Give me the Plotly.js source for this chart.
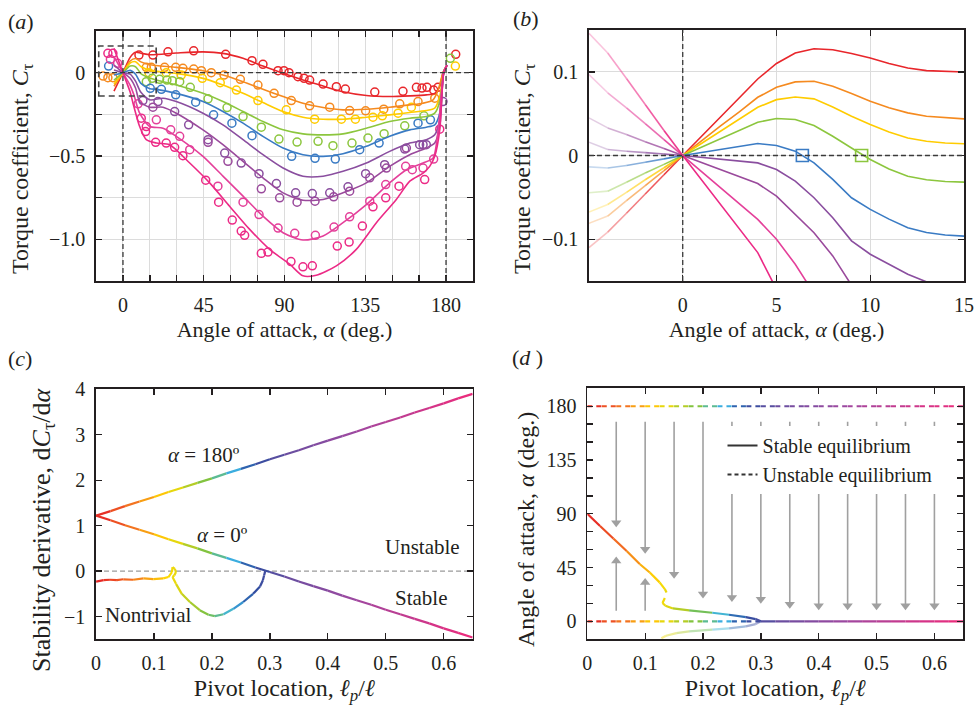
<!DOCTYPE html>
<html><head><meta charset="utf-8">
<script src="https://cdn.plot.ly/plotly-3.0.1.min.js"></script>
<style>html,body{margin:0;padding:0;background:#fff;} #chart{width:979px;height:710px;}</style>
</head><body><div id="chart"></div>
<script>
// ================= DATA =================
// ---- Panel (a): torque coefficient vs angle of attack (model curves) ----
const aAlpha1 = [-5,0,4,7,10,15,29.7,44.6,55.7,66.9,78,89.2,100.3,111.5,122.6,135.6,148.6,159.8,169,173.7,176.5,178.3,180.5];
const aCt1    = [-0.110,0,0.092,0.122,0.117,0.108,0.118,0.125,0.116,0.086,0.040,-0.004,-0.044,-0.080,-0.114,-0.137,-0.143,-0.139,-0.133,-0.124,-0.084,0,0.040];
const aAlpha2 = [-5,0,4,7,10,15,29.7,44.6,55.7,66.9,78,89.2,100.3,111.5,122.6,135.6,148.6,159.8,167.2,172.8,175.6,178.3,180.5];
const aCt2    = [-0.081,0,0.070,0.085,0.065,0.048,0.032,0.012,-0.014,-0.054,-0.100,-0.143,-0.183,-0.209,-0.223,-0.219,-0.207,-0.193,-0.183,-0.163,-0.104,0,0.045];
const aAlpha3 = [-5,0,4,7,10,15,29.7,44.6,55.7,66.9,78,89.2,100.3,111.5,122.6,135.6,148.6,159.8,169,173.7,176.5,178.7,180.5];
const aCt3    = [-0.068,0,0.058,0.066,0.037,0.014,-0.004,-0.034,-0.074,-0.124,-0.179,-0.233,-0.267,-0.279,-0.279,-0.267,-0.253,-0.239,-0.227,-0.213,-0.143,0,0.045];
const aAlpha4 = [-5,0,4,7,10,15,18.6,29.7,44.6,55.7,66.9,78,89.2,100.3,111.5,122.6,135.6,148.6,159.8,169,173.7,176.5,178.7,180.5];
const aCt4    = [-0.045,0,0.040,0.036,-0.005,-0.032,-0.044,-0.074,-0.124,-0.173,-0.233,-0.293,-0.343,-0.367,-0.373,-0.367,-0.333,-0.293,-0.273,-0.263,-0.243,-0.173,0,0.045];
const aAlpha5 = [-5,0,4,7,10,15,18.6,29.7,44.6,55.7,66.9,78,89.2,100.3,111.5,122.6,135.6,148.6,159.8,169,173.7,176.5,178.7,180.5];
const aCt5    = [-0.014,0,0.014,-0.009,-0.064,-0.096,-0.100,-0.124,-0.173,-0.233,-0.303,-0.382,-0.452,-0.492,-0.502,-0.486,-0.442,-0.382,-0.343,-0.327,-0.313,-0.243,0,0.045];
const aAlpha6 = [-5,0,4,7,10,14.9,22.3,29.7,44.6,55.7,66.9,78,89.2,100.3,111.5,122.6,135.6,148.6,159.8,169,173.7,176.5,178.7,180.5];
const aCt6    = [0.016,0,-0.009,-0.051,-0.118,-0.163,-0.153,-0.173,-0.243,-0.313,-0.402,-0.492,-0.572,-0.621,-0.621,-0.592,-0.542,-0.472,-0.422,-0.402,-0.373,-0.283,0,0.045];
const aAlpha7 = [-5,0,4,7,9.3,14.9,22.3,29.7,44.6,55.7,66.9,78,89.2,100.3,111.5,122.6,135.6,148.6,159.8,169,173.7,176.5,178.7,180.5];
const aCt7    = [0.045,0,-0.033,-0.092,-0.173,-0.207,-0.207,-0.243,-0.343,-0.432,-0.532,-0.631,-0.721,-0.765,-0.761,-0.721,-0.661,-0.562,-0.492,-0.452,-0.422,-0.323,0,0.045];
const aAlpha8 = [-5,0,4,6,9.3,14.9,22.3,29.7,44.6,55.7,66.9,78,89.2,100.3,111.5,122.6,135.6,148.6,157.9,167.2,172.8,175.6,178.7,180.5];
const aCt8    = [0.097,0,-0.076,-0.130,-0.243,-0.323,-0.333,-0.382,-0.502,-0.621,-0.741,-0.861,-0.960,-1.004,-0.980,-0.900,-0.791,-0.661,-0.582,-0.542,-0.512,-0.343,0,0.045];
const aAlpha9 = [-5,0,4,5.6,9.3,13,18.6,26,37.2,48.3,59.4,70.6,81.7,92.9,100.3,107.7,118.9,130,141.2,152.3,159.8,167.2,170.9,173.7,176.5,178.7,180.5];
const aCt9    = [0.146,0,-0.116,-0.183,-0.323,-0.402,-0.422,-0.432,-0.542,-0.661,-0.801,-0.940,-1.060,-1.149,-1.219,-1.215,-1.159,-1.060,-0.900,-0.761,-0.651,-0.602,-0.562,-0.502,-0.343,0,0.045];

// ---- Panel (a): experiments (open circles) ----
const eAlpha1 = [8.9,16.7,25.1,39.4,57.2,71.9,78.0,86.4,89.7,92.5,97.5,100.9,104.0,111.5,118.9,123.9,140.3,156.0,163.5,166.6,169.4,173.1,175.5,185.4];
const eCt1    = [0.106,0.106,0.125,0.131,0.110,0.072,0.050,0.012,0.012,0,-0.024,-0.034,-0.044,-0.068,-0.084,-0.098,-0.116,-0.112,-0.088,-0.092,-0.088,-0.104,-0.088,0.110];
const eAlpha2 = [-11.1,-8.4,-5.6,13.0,15.8,23.2,29.4,33.4,39.4,43.7,49.2,56.3,65.4,75.2,84.2,93.8,104.0,115.2,126.3,135.2,145.3,154.2,164.4,173.7];
const eCt2    = [-0.020,-0.030,-0.030,0.032,0.032,0.032,0.032,0.026,0.022,0.012,0,-0.014,-0.040,-0.074,-0.124,-0.167,-0.199,-0.207,-0.227,-0.229,-0.219,-0.187,-0.173,-0.153];
const eAlpha3 = [14.5,24.1,32.5,44.2,54.2,63.2,75.2,91.0,106.8,121.7,129.5,139.3,144.5,153.3,160.7,185.2];
const eCt3    = [0,0,-0.014,-0.034,-0.060,-0.104,-0.167,-0.223,-0.279,-0.279,-0.279,-0.267,-0.259,-0.243,-0.207,0.040];
const eAlpha4 = [13.0,16.3,20.4,24.5,27.5,31.6,37.5,47.4,58.0,66.9,77.1,86.9,97.0,108.7,117.0,127.6,136.5,145.5,157.0,167.7,182.4];
const eCt4    = [-0.054,-0.034,-0.040,-0.044,-0.048,-0.054,-0.088,-0.157,-0.209,-0.263,-0.327,-0.398,-0.416,-0.412,-0.438,-0.422,-0.392,-0.366,-0.319,-0.259,0.086];
const eAlpha5 = [-8.0,15.2,21.4,29.4,40.5,50.5,60.7,71.9,94.0,107.0,118.3,131.9,142.7,164.4,171.3];
const eCt5    = [0.040,-0.094,-0.100,-0.133,-0.177,-0.253,-0.303,-0.378,-0.502,-0.514,-0.518,-0.462,-0.422,-0.303,-0.283];
const eAlpha6 = [11.1,19.5,28.8,36.6,47.4,56.7,65.9,75.8,85.5,96.2,105.5,115.2,125.4,135.2,145.8,157.0,165.3,167.2,169.0,178.3];
const eCt6    = [-0.167,-0.173,-0.233,-0.313,-0.402,-0.482,-0.542,-0.606,-0.665,-0.721,-0.725,-0.721,-0.685,-0.606,-0.552,-0.458,-0.432,-0.432,-0.432,-0.173];
const eAlpha7 = [16.7,47.4,58.5,77.1,87.3,97.0,107.0,117.4,126.3,137.5,146.8,157.9];
const eCt7    = [-0.207,-0.418,-0.532,-0.697,-0.751,-0.777,-0.771,-0.745,-0.711,-0.631,-0.572,-0.452];
const eAlpha8 = [-7.0,-3.0,8.4,18.6,26.6,31.6,37.2,52.9,66.9,75.8,86.4,95.7,107.2,117.6,126.3,137.5,146.4,157.5,161.2,167.2,173.1];
const eCt8    = [0.080,0.056,-0.187,-0.283,-0.343,-0.382,-0.462,-0.681,-0.777,-0.851,-0.932,-0.964,-0.976,-0.926,-0.865,-0.771,-0.671,-0.562,-0.582,-0.572,-0.518];
const eAlpha9 = [-8.4,-5.6,10.2,13.0,12.6,18.2,24.1,28.8,33.4,46.1,53.3,60.9,65.9,67.8,77.1,80.8,93.6,100.3,105.5,119.4,126.0,133.4,139.3,146.4,153.8,168.1,176.5];
const eCt9    = [0.116,0.116,-0.273,-0.323,-0.353,-0.418,-0.422,-0.448,-0.498,-0.645,-0.777,-0.884,-0.950,-0.976,-1.084,-1.076,-1.133,-1.165,-1.159,-1.040,-1.016,-0.920,-0.805,-0.751,-0.681,-0.641,-0.339];

// ---- Panel (b): zoom on small angles ----
const bAlpha = [-5,-4,-3,-2,-1,0,1,2,3,4,5,6,7,8,9,10,11,12,13,14,15];
const bCt1 = [-0.110,-0.0915,-0.069,-0.046,-0.023,0,0.023,0.046,0.069,0.0915,0.110,0.1225,0.1277,0.1265,0.122,0.1166,0.110,0.1046,0.1015,0.1003,0.0999];
const bCt2 = [-0.081,-0.0724,-0.054,-0.036,-0.018,0,0.018,0.035,0.052,0.0696,0.0815,0.088,0.0887,0.0827,0.074,0.0648,0.057,0.051,0.047,0.045,0.0438];
const bCt3 = [-0.0676,-0.0585,-0.044,-0.029,-0.0146,0,0.0145,0.029,0.043,0.0577,0.0668,0.070,0.0677,0.058,0.047,0.037,0.028,0.021,0.017,0.015,0.014];
const bCt4 = [-0.0445,-0.0426,-0.032,-0.021,-0.0106,0,0.010,0.020,0.030,0.0398,0.0442,0.043,0.0358,0.023,0.009,-0.0048,-0.016,-0.0247,-0.029,-0.031,-0.0318];
const bCt5 = [-0.0135,-0.015,-0.012,-0.008,-0.004,0,0.0036,0.0072,0.011,0.0143,0.012,0.0052,-0.0087,-0.0286,-0.0505,-0.0644,-0.076,-0.0863,-0.092,-0.095,-0.0963];
const bCt6 = [0.0159,0.0072,0.0052,0.0035,0.0018,0,-0.0022,-0.0044,-0.0066,-0.0088,-0.0167,-0.0306,-0.0505,-0.0744,-0.102,-0.118,-0.130,-0.142,-0.151,-0.158,-0.163];
const bCt7 = [0.045,0.033,0.025,0.0165,0.0083,0,-0.0084,-0.0167,-0.025,-0.0334,-0.0485,-0.0704,-0.0923,-0.120,-0.155,-0.180,-0.200,-0.215,-0.225,-0.230,-0.235];
const bCt8 = [0.0967,0.075,0.057,0.038,0.019,0,-0.019,-0.038,-0.057,-0.0764,-0.100,-0.130,-0.165,-0.200,-0.230,-0.260,-0.285,-0.305,-0.320,-0.330,-0.335];
const bCt9 = [0.146,0.1225,0.092,0.061,0.030,0,-0.029,-0.058,-0.087,-0.116,-0.160,-0.210,-0.255,-0.295,-0.330,-0.360,-0.385,-0.400,-0.410,-0.415,-0.420];
const bCrossAlpha = [6.38, 9.54];   // zero crossings (squares)
const bCrossCt    = [0, 0];
const bCrossSeries = [4, 3];        // index of series (blue, green)

// ---- Panel (c): stability derivative vs pivot location ----
const pivot = [0,0.025,0.05,0.075,0.1,0.125,0.15,0.175,0.2,0.225,0.25,0.275,0.3,0.325,0.35,0.375,0.4,0.425,0.45,0.475,0.5,0.525,0.55,0.575,0.6,0.625,0.65];
const deriv180 = [1.22,1.32,1.43,1.53,1.63,1.74,1.84,1.94,2.04,2.15,2.25,2.35,2.46,2.56,2.66,2.77,2.87,2.97,3.07,3.18,3.28,3.38,3.49,3.59,3.69,3.80,3.90];
const deriv0   = [1.22,1.12,1.01,0.91,0.81,0.70,0.60,0.50,0.39,0.29,0.19,0.08,-0.02,-0.12,-0.23,-0.33,-0.43,-0.54,-0.64,-0.74,-0.85,-0.95,-1.05,-1.15,-1.26,-1.36,-1.46];
const ntPivot = [0,0.013,0.024,0.036,0.047,0.064,0.082,0.099,0.116,0.125,0.131,0.132,0.136,0.138,0.135,0.132,0.138,0.148,0.162,0.179,0.194,0.205,0.22,0.237,0.254,0.271,0.283,0.288,0.29,0.292];
const ntDeriv = [-0.23,-0.20,-0.19,-0.20,-0.18,-0.19,-0.16,-0.175,-0.16,-0.13,-0.02,0.09,0.05,-0.02,-0.095,-0.13,-0.28,-0.50,-0.68,-0.86,-0.96,-0.99,-0.95,-0.83,-0.68,-0.50,-0.34,-0.20,-0.095,0];

// ---- Panel (d): equilibrium angle vs pivot location ----
const eqAlpha180 = [180,180,180,180,180,180,180,180,180,180,180,180,180,180,180,180,180,180,180,180,180,180,180,180,180,180,180];
const eqAlpha0   = [0,0,0,0,0,0,0,0,0,0,0,0,0,0,0,0,0,0,0,0,0,0,0,0,0,0,0];
const upPivot = [0,0.022,0.045,0.068,0.091,0.108,0.125,0.134,0.137];
const upAlpha = [90,79.8,69.3,58.9,47.8,40.9,32.6,27,24.2];
const midPivot = [0.134,0.130,0.135,0.148,0.176,0.216,0.245,0.274,0.291,0.30];
const midAlpha = [19.5,15.3,13,10.8,9.2,7.2,5.5,3.6,1.9,0];
const lowPivot = [0.30,0.291,0.274,0.245,0.216,0.176,0.154,0.136,0.128];
const lowAlpha = [0,-2.3,-4.2,-5.8,-7,-8.4,-9.8,-12,-14.2];
const arrowPivot = [0.05,0.1,0.15,0.2,0.25,0.3,0.35,0.4,0.45,0.5,0.55,0.6];
const arrowFrom  = [167,167,167,167,167,167,167,167,167,167,167,167];
const arrowTo    = [82.6,60.4,39.5,22.8,20,18.6,14.4,13,13,13,13,13];
const upArrowPivot = [0.05,0.1];
const upArrowFrom  = [8.8,8.8];
const upArrowTo    = [50.6,32.6];

// ================= STYLE =================
const FONT = '"Liberation Serif", "Times New Roman", serif';
const INK = '#231f20';
const palette = ['#e8262b','#f58a1f','#ffcc00','#8cc63e','#3a7bc4','#8a4e9f','#9a4a9c','#e4409a','#ec2a86'];
const rainbowStops = [[0,[228,30,38]],[0.06,[243,112,33]],[0.125,[255,220,0]],[0.19,[125,194,66]],[0.235,[60,180,228]],[0.27,[43,77,160]],[0.33,[105,78,160]],[0.45,[160,72,160]],[0.65,[238,42,123]]];
function rainbow(v){
  if (v <= rainbowStops[0][0]) return 'rgb('+rainbowStops[0][1].join(',')+')';
  for (let i=1;i<rainbowStops.length;i++){
    if (v <= rainbowStops[i][0]){
      const [a,ca]=rainbowStops[i-1],[b,cb]=rainbowStops[i];
      const t=(v-a)/(b-a);
      return 'rgb('+ca.map((c,k)=>Math.round(c+(cb[k]-c)*t)).join(',')+')';
    }
  }
  return 'rgb('+rainbowStops[rainbowStops.length-1][1].join(',')+')';
}
function hexA(hex,a){const n=parseInt(hex.slice(1),16);return `rgba(${n>>16},${(n>>8)&255},${n&255},${a})`;}

const traces = [];
// ---- (a) ----
const aAlphas=[aAlpha1,aAlpha2,aAlpha3,aAlpha4,aAlpha5,aAlpha6,aAlpha7,aAlpha8,aAlpha9];
const aCts=[aCt1,aCt2,aCt3,aCt4,aCt5,aCt6,aCt7,aCt8,aCt9];
const eAlphas=[eAlpha1,eAlpha2,eAlpha3,eAlpha4,eAlpha5,eAlpha6,eAlpha7,eAlpha8,eAlpha9];
const eCts=[eCt1,eCt2,eCt3,eCt4,eCt5,eCt6,eCt7,eCt8,eCt9];
for (let s=0;s<9;s++){
  traces.push({type:'scatter',mode:'markers',x:eAlphas[s],y:eCts[s],xaxis:'x',yaxis:'y',showlegend:false,hoverinfo:'skip',cliponaxis:true,
    marker:{symbol:'circle-open',size:8,color:palette[s],line:{width:1.5,color:palette[s]}}});
}
for (let s=0;s<9;s++){
  traces.push({type:'scatter',mode:'lines',x:aAlphas[s],y:aCts[s],xaxis:'x',yaxis:'y',showlegend:false,hoverinfo:'skip',
    line:{color:palette[s],width:1.6,shape:'spline',smoothing:0.7}});
}
// ---- (b) ----
const bCts=[bCt1,bCt2,bCt3,bCt4,bCt5,bCt6,bCt7,bCt8,bCt9];
for (let s=0;s<9;s++){
  const i0 = bAlpha.indexOf(0);
  for (let i=0;i<i0;i++){
    const m=(bAlpha[i]+bAlpha[i+1])/2; // negative side fades out
    const op = 0.12 + 0.88*(1 - Math.abs(m)/5.5);
    traces.push({type:'scatter',mode:'lines',x:[bAlpha[i],bAlpha[i+1]],y:[bCts[s][i],bCts[s][i+1]],xaxis:'x2',yaxis:'y2',showlegend:false,hoverinfo:'skip',
      line:{color:hexA(palette[s],op),width:1.6}});
  }
  traces.push({type:'scatter',mode:'lines',x:bAlpha.slice(i0),y:bCts[s].slice(i0),xaxis:'x2',yaxis:'y2',showlegend:false,hoverinfo:'skip',
    line:{color:palette[s],width:1.6}});
}
traces.push({type:'scatter',mode:'markers',x:bCrossAlpha,y:bCrossCt,xaxis:'x2',yaxis:'y2',showlegend:false,hoverinfo:'skip',cliponaxis:false,
  marker:{symbol:'square-open',size:12,color:bCrossSeries.map(i=>palette[i]),line:{width:1.6,color:bCrossSeries.map(i=>palette[i])}}});

// gradient helper for (c),(d)
function grad(xs, ys, xa, ya, opt){
  opt = opt||{};
  for (let i=0;i<xs.length-1;i++){
    const xm=(xs[i]+xs[i+1])/2;
    const dash = opt.dashFn ? opt.dashFn(i) : (opt.dash||'solid');
    traces.push({type:'scatter',mode:'lines',x:[xs[i],xs[i+1]],y:[ys[i],ys[i+1]],xaxis:xa,yaxis:ya,showlegend:false,hoverinfo:'skip',
      opacity: opt.opacity||1, line:{color:rainbow(xm),width:opt.width||2.2,dash:dash}});
  }
}
// ---- (c) ----
grad(pivot, deriv180, 'x3','y3');
grad(pivot, deriv0, 'x3','y3');
grad(ntPivot, ntDeriv, 'x3','y3');
// ---- (d) ----
const shaftX=[], shaftY=[];
arrowPivot.forEach((p,i)=>{shaftX.push(p,p,null);shaftY.push(arrowFrom[i],arrowTo[i],null);});
upArrowPivot.forEach((p,i)=>{shaftX.push(p,p,null);shaftY.push(upArrowFrom[i],upArrowTo[i],null);});
traces.push({type:'scatter',mode:'lines',x:shaftX,y:shaftY,xaxis:'x4',yaxis:'y4',showlegend:false,hoverinfo:'skip',connectgaps:false,
  line:{color:'#a0a0a0',width:1.6}});
const DASH='5px,4px';
grad(pivot, eqAlpha180, 'x4','y4',{dash:DASH});
grad(pivot, eqAlpha0, 'x4','y4',{dashFn:i=>((deriv0[i]+deriv0[i+1])/2<0?'solid':DASH)});
grad(upPivot, upAlpha, 'x4','y4');
grad(midPivot, midAlpha, 'x4','y4');
grad(lowPivot, lowAlpha, 'x4','y4',{opacity:0.45});
// arrowheads (triangle markers at the shaft ends)
traces.push({type:'scatter',mode:'markers',x:arrowPivot,y:arrowTo,xaxis:'x4',yaxis:'y4',showlegend:false,hoverinfo:'skip',
  marker:{symbol:'triangle-down',size:9,color:'#a0a0a0',line:{width:0}}});
traces.push({type:'scatter',mode:'markers',x:upArrowPivot,y:upArrowTo,xaxis:'x4',yaxis:'y4',showlegend:false,hoverinfo:'skip',
  marker:{symbol:'triangle-up',size:9,color:'#a0a0a0',line:{width:0}}});
// legend entries
traces.push({type:'scatter',mode:'lines',x:[null],y:[null],xaxis:'x4',yaxis:'y4',name:'Stable equilibrium',showlegend:true,line:{color:'#333',width:2}});
traces.push({type:'scatter',mode:'lines',x:[null],y:[null],xaxis:'x4',yaxis:'y4',name:'Unstable equilibrium',showlegend:true,line:{color:'#333',width:2,dash:'4px,3px'}});

// ================= LAYOUT =================
const tickFont={family:FONT,size:20,color:INK};
const xTitleFont={family:FONT,size:22,color:INK};
function ax(extra){
  return Object.assign({showline:true,linecolor:INK,linewidth:1.8,mirror:'ticks',ticks:'inside',ticklen:6,tickwidth:1.3,tickcolor:INK,
    zeroline:false,showgrid:false,tickfont:tickFont,automargin:false,ticklabelstandoff:5,fixedrange:true},extra);
}
const GRID='#dcdcdc';
const annotations=[];
function lab(txt,x,y){annotations.push({text:txt,xref:'paper',yref:'paper',x:x/979,y:1-y/710,xanchor:'left',yanchor:'middle',showarrow:false,font:{family:FONT,size:22,color:INK}});}
lab('(<i>a</i>)',6,22); lab('(<i>b</i>)',511,19); lab('(<i>c</i>)',6,358); lab('(<i>d</i> )',510,357);
// vertical axis titles (placed like the reference, slightly below axis centre)
function ytitle(t,x,y,size){annotations.push({text:t,xref:'paper',yref:'paper',x:x/979,y:1-y/710,xanchor:'center',yanchor:'middle',textangle:-90,showarrow:false,font:{family:FONT,size:size,color:INK}});}
ytitle('Torque coefficient, <i>C</i><sub>τ</sub>',22,169,24);
ytitle('Torque coefficient, <i>C</i><sub>τ</sub>',524,169,24);
ytitle('Stability derivative, d<i>C</i><sub>τ</sub>/d<i>α</i>',43,530,26);
ytitle('Angle of attack, <i>α</i> (deg.)',526,530,24);
function txt(t,x,y,xr,yr,anchor){annotations.push({text:t,xref:xr,yref:yr,x:x,y:y,xanchor:anchor||'center',yanchor:'middle',showarrow:false,font:{family:FONT,size:21,color:INK}});}
txt('<i>α</i> = 180º',0.186,2.56,'x3','y3');
txt('<i>α</i> = 0º',0.218,0.80,'x3','y3');
txt('Unstable',0.563,0.53,'x3','y3');
txt('Stable',0.561,-0.59,'x3','y3');
txt('Nontrivial',0.09,-0.96,'x3','y3');

const dashLine={color:'#3a3a3a',width:1.3,dash:'5px,3px'};
const shapes=[
  {type:'line',xref:'x',yref:'y',x0:0,x1:0,y0:-1.25,y1:0.25,line:dashLine,layer:'above'},
  {type:'line',xref:'x',yref:'y',x0:180,x1:180,y0:-1.25,y1:0.25,line:dashLine,layer:'above'},
  {type:'line',xref:'x',yref:'y',x0:-15,x1:195,y0:0,y1:0,line:dashLine,layer:'above'},
  {type:'rect',xref:'x',yref:'y',x0:-13.5,x1:18.5,y0:-0.14,y1:0.16,line:{color:'#444',width:1.6,dash:'6px,4px'},fillcolor:'rgba(0,0,0,0)',layer:'above'},
  {type:'line',xref:'x2',yref:'y2',x0:0,x1:0,y0:-0.15,y1:0.15,line:dashLine,layer:'above'},
  {type:'line',xref:'x2',yref:'y2',x0:-5,x1:15,y0:0,y1:0,line:dashLine,layer:'above'},
  {type:'line',xref:'x3',yref:'y3',x0:0,x1:0.65,y0:0,y1:0,line:{color:'#9a9a9a',width:1.3,dash:'5px,3px'},layer:'below'},
];

const layout={
  width:979,height:710,margin:{l:0,r:0,t:0,b:0},paper_bgcolor:'#fff',plot_bgcolor:'rgba(0,0,0,0)',
  font:{family:FONT,color:INK},
  showlegend:true,
  legend:{x:0.738,y:0.400,xanchor:'left',yanchor:'top',bgcolor:'#fff',borderwidth:0,font:{family:FONT,size:20,color:INK},tracegroupgap:0},
  xaxis:ax({domain:[0.0981,0.4831],anchor:'y',range:[-15,195],tick0:0,dtick:45,showgrid:true,gridcolor:GRID,gridwidth:1,
    minor:{tick0:0,dtick:15,ticks:'inside',ticklen:6,tickwidth:1.3,tickcolor:INK,showgrid:true,gridcolor:GRID,gridwidth:1},
    title:{text:'Angle of attack, <i>α</i> (deg.)',font:xTitleFont,standoff:7}}),
  yaxis:ax({domain:[0.6042,0.9563],anchor:'x',range:[-1.25,0.25],tick0:0,dtick:0.5,tickformat:'.1f',labelalias:{'0.0':'0'},showgrid:true,gridcolor:GRID,gridwidth:1,
    minor:{tick0:0,dtick:0.25,ticks:'inside',ticklen:6,tickwidth:1.3,tickcolor:INK,showgrid:true,gridcolor:GRID,gridwidth:1}}),
  xaxis2:ax({domain:[0.6016,0.9847],anchor:'y2',range:[-5,15],tickvals:[0,5,10,15],showgrid:true,gridcolor:GRID,gridwidth:1,
    title:{text:'Angle of attack, <i>α</i> (deg.)',font:xTitleFont,standoff:7}}),
  yaxis2:ax({domain:[0.6042,0.9577],anchor:'x2',range:[-0.15,0.15],tick0:0,dtick:0.1,showgrid:true,gridcolor:GRID,gridwidth:1}),
  xaxis3:ax({domain:[0.0981,0.4828],anchor:'y3',range:[0,0.65],tick0:0,dtick:0.1,
    title:{text:'Pivot location, <i>ℓ</i><sub><i>p</i></sub>/<i>ℓ</i>',font:{family:FONT,size:24,color:INK},standoff:6}}),
  yaxis3:ax({domain:[0.0996,0.4517],anchor:'x3',range:[-1.5,4],tick0:0,dtick:1}),
  xaxis4:ax({domain:[0.5999,0.9840],anchor:'y4',range:[0,0.65],tick0:0,dtick:0.1,
    title:{text:'Pivot location, <i>ℓ</i><sub><i>p</i></sub>/<i>ℓ</i>',font:{family:FONT,size:24,color:INK},standoff:6}}),
  yaxis4:ax({domain:[0.0996,0.4531],anchor:'x4',range:[-15,195],tick0:0,dtick:45,
    minor:{tick0:0,dtick:15,ticks:'inside',ticklen:6,tickwidth:1.3,tickcolor:INK}}),
  shapes:shapes, annotations:annotations
};
Plotly.newPlot('chart',traces,layout,{displayModeBar:false,staticPlot:true});
</script></body></html>
